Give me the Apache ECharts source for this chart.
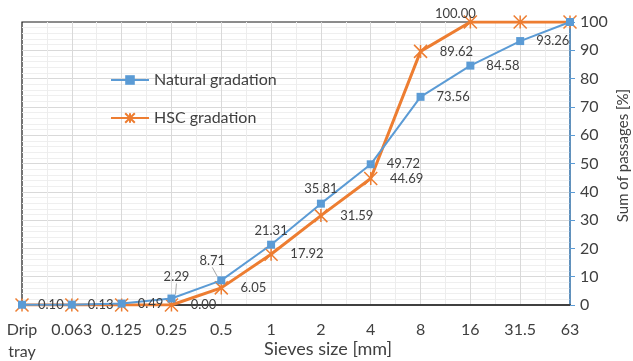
<!DOCTYPE html>
<html><head><meta charset="utf-8">
<script src="https://cdn.jsdelivr.net/npm/echarts@6/dist/echarts.min.js"></script>
<style>html,body{margin:0;padding:0;background:#fff}#c{width:633px;height:361px}</style>
</head><body><div id="c"></div>
<script>
const categories = ['Drip\ntray','0.063','0.125','0.25','0.5','1','2','4','8','16','31.5','63'];
const naturalValues = [0.10, 0.13, 0.49, 2.29, 8.71, 21.31, 35.81, 49.72, 73.56, 84.58, 93.26, 100];
const hscValues = [0, 0, 0, 0.00, 6.05, 17.92, 31.59, 44.69, 89.62, 100, 100, 100];
const yTicks = [0,10,20,30,40,50,60,70,80,90,100];

const FONT = 'Lato';
const TXT = '#404040';
const BLUE = '#5B9BD5', ORANGE = '#ED7D31';

// label placement per point (null = hidden)
const natLabel = ['right','right','right','leadA','leadB','top','topleft','right','right','right','right',null];
const hscLabel = [null,null,null,'right','right','right','right','right','right','topleft2',null,null];

function labelFor(kind){
  if (!kind) return {show:false};
  if (kind==='right') return {show:true, position:'right', distance:12};
  if (kind==='top') return {show:true, position:'top', distance:3};
  if (kind==='topleft') return {show:true, position:'top', distance:4, offset:[-15,0]};
  if (kind==='topleft2') return {show:true, position:'top', distance:0, offset:[-15,6]};
  if (kind==='leadA') return {show:true, position:'top', distance:3};
  if (kind==='leadB') return {show:true, position:'top', distance:3};
}
const leadShift = {3:[5,-8], 4:[-9,-6]};

const natData = naturalValues.map((v,i)=>({value:[i,v], label:labelFor(natLabel[i]),
  labelLine: leadShift[i] ? {show:true, lineStyle:{color:'#a6a6a6', width:1}} : {show:false}}));
const hscData = hscValues.map((v,i)=>({value:[i,v], label:labelFor(hscLabel[i])}));

const chart = echarts.init(document.getElementById('c'), null, {renderer:'canvas'});
chart.setOption({
  animation:false,
  textStyle:{fontFamily:FONT},
  grid:{left:22, right:63, top:22, bottom:56, containLabel:false, outerBoundsMode:'none',
        show:true, borderColor:'#1a1a1a', borderWidth:1.2, backgroundColor:'transparent'},
  legend:{
    orient:'vertical', left:105, top:67, itemGap:22, itemWidth:38, itemHeight:12,
    textStyle:{fontFamily:FONT, fontSize:16, color:TXT},
    data:['Natural gradation','HSC gradation']
  },
  xAxis:{
    type:'value', min:0, max:categories.length-1, interval:1,
    name:'Sieves size [mm]', nameLocation:'middle', nameGap:35, nameMoveOverlap:false,
    nameTextStyle:{fontFamily:FONT, fontSize:18, color:TXT, padding:[0,0,0,64]},
    axisLine:{show:true, onZero:false, lineStyle:{color:'#404040', width:2}},
    axisTick:{show:false},
    axisLabel:{fontFamily:FONT, fontSize:16, color:TXT, margin:14, lineHeight:22,
      formatter:(v)=>categories[Math.round(v)] ?? ''},
    splitLine:{show:true, showMinLine:false, showMaxLine:false, lineStyle:{color:'#d9d9d9', width:1}},
    minorTick:{show:false, splitNumber:2},
    minorSplitLine:{show:true, lineStyle:{color:'#ededed', width:1}}
  },
  yAxis:{
    type:'value', position:'right', min:0, max:100, interval:10,
    name:'Sum of passages [%]', nameLocation:'middle', nameGap:46, nameRotate:90, nameMoveOverlap:false,
    nameTextStyle:{fontFamily:FONT, fontSize:15, color:TXT, padding:[0,0,0,16]},
    axisLine:{show:true, onZero:false, lineStyle:{color:BLUE, width:1.5}},
    axisTick:{show:true, inside:false, length:5, lineStyle:{color:BLUE}},
    axisLabel:{fontFamily:FONT, fontSize:16, color:TXT, margin:10,
      formatter:(v)=> yTicks.includes(v) ? String(v) : ''},
    splitLine:{show:true, showMinLine:false, showMaxLine:false, lineStyle:{color:'#d9d9d9', width:1}},
    minorTick:{show:false, splitNumber:5},
    minorSplitLine:{show:true, lineStyle:{color:'#efefef', width:1}}
  },
  series:[
    {
      name:'Natural gradation', type:'line', data:natData, z:3,
      symbol:'rect', symbolSize:8,
      lineStyle:{color:BLUE, width:2},
      itemStyle:{color:BLUE},
      label:{fontFamily:FONT, fontSize:13, color:TXT, formatter:(p)=>p.value[1].toFixed(2)},
      labelLayout:(p)=> leadShift[p.dataIndex] ? {dx:leadShift[p.dataIndex][0], dy:leadShift[p.dataIndex][1]} : {},
    },
    {
      name:'HSC gradation', type:'line', data:hscData, z:2,
      symbol:'path://M0,0L10,10M10,0L0,10M5,0L5,10', symbolSize:13,
      lineStyle:{color:ORANGE, width:3},
      itemStyle:{color:ORANGE, borderColor:ORANGE, borderWidth:1.5},
      label:{fontFamily:FONT, fontSize:13, color:TXT, formatter:(p)=>p.value[1].toFixed(2)},
    }
  ]
});
</script></body></html>
